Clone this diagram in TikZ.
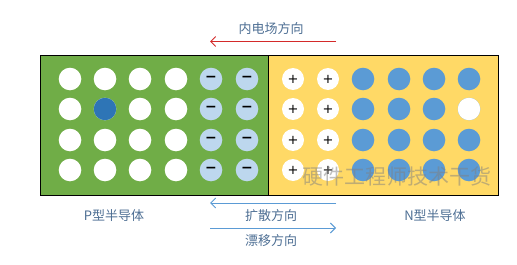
\documentclass[tikz,border=0pt]{standalone}
\usepackage{fontspec}
\setmainfont{Noto Sans CJK SC}
\newfontfamily\symfont{DejaVu Sans}
\usetikzlibrary{arrows.meta}
\definecolor{pgreen}{HTML}{70AD47}
\definecolor{nyellow}{HTML}{FFD966}
\definecolor{eblue}{HTML}{5B9BD5}
\definecolor{lblue}{HTML}{BDD7EE}
\definecolor{dblue}{HTML}{2E75B6}
\definecolor{txtc}{HTML}{4E6F94}
\definecolor{redc}{HTML}{D42A2A}
\tikzset{
  dot/.style={circle,draw=none,minimum size=22.6pt,inner sep=0pt},
  wdot/.style={dot,fill=white},
  bdot/.style={dot,fill=eblue},
  ion/.style={dot,fill=lblue,font=\symfont\bfseries\fontsize{14}{14}\selectfont},
  hole/.style={circle,draw=none,fill=white,minimum size=22pt,inner sep=0pt,font=\symfont\fontsize{13}{13}\selectfont},
  lbl/.style={text=txtc,font=\fontsize{13}{15}\selectfont,inner sep=0pt},
  arr/.style={-{Straight Barb[length=5pt,width=10pt]},line width=0.9pt},
}
\begin{document}
\begin{tikzpicture}[x=1pt,y=-1pt]
\useasboundingbox (0,0) rectangle (517,265);
\fill[white] (0,0) rectangle (517,265);
% regions
\fill[pgreen] (40,55) rectangle (268,195);
\fill[nyellow] (268,55) rectangle (498,195);
\draw[line width=0.9pt] (40,55) rectangle (498,195);
\draw[line width=0.9pt] (268,55) -- (268,195);
% P side
\foreach \r/\y in {1/79,2/109,3/140,4/170}{
  \foreach \c/\x in {1/70,2/105,3/140,4/176}{
    \node[wdot] (p\r\c) at (\x,\y) {};
  }
  \node[ion] (m\r1) at (211,\y) {−};
  \node[ion] (m\r2) at (247,\y) {−};
  \node[hole] (h\r1) at (293,\y) {+};
  \node[hole] (h\r2) at (328,\y) {+};
  \foreach \c/\x in {1/363,2/399,3/434,4/469}{
    \node[bdot] (n\r\c) at (\x,\y) {};
  }
}
\node[dot,fill=dblue] (pd) at (105,109) {};
\node[wdot] (nw) at (469,109) {};
% watermark
\node[text=gray,opacity=0.5,font=\fontsize{21}{21}\selectfont,inner sep=0pt] (wm) at (397,176) {硬件工程师技术干货};
% top arrow
\coordinate (ta) at (336,41.5);
\coordinate (tb) at (210,41.5);
\draw[arr,redc] (ta) -- (tb);
\node[lbl] (tl) at (271,29) {内电场方向};
% bottom arrows
\coordinate (da) at (336,203);
\coordinate (db) at (210,203);
\draw[arr,eblue] (da) -- (db);
\node[lbl] (dl) at (271,216) {扩散方向};
\coordinate (ra) at (210,228);
\coordinate (rb) at (336,228);
\draw[arr,eblue] (ra) -- (rb);
\node[lbl] (rl) at (271,241) {漂移方向};
\node[lbl] (pl) at (114,216) {P型半导体};
\node[lbl] (nl) at (435,216) {N型半导体};
\end{tikzpicture}
\end{document}
